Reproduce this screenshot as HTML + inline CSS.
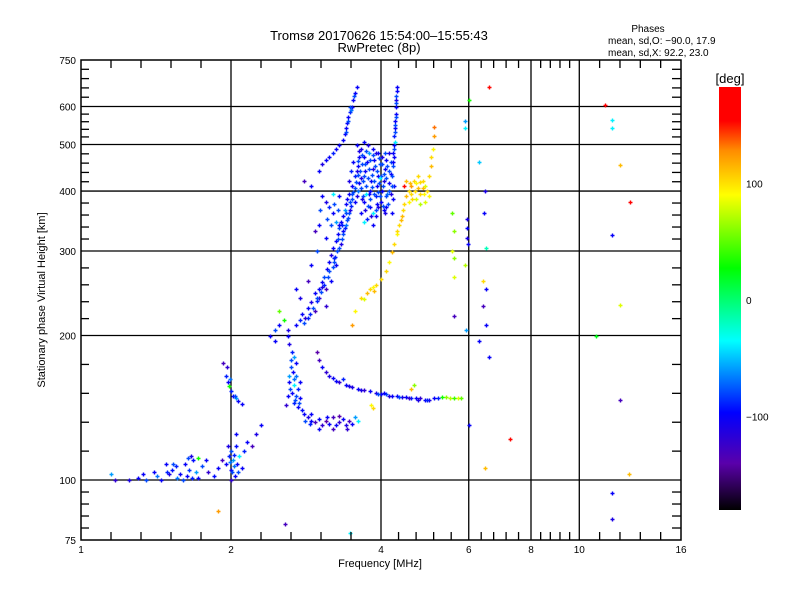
<!DOCTYPE html>
<html><head><meta charset="utf-8">
<style>
html,body{margin:0;padding:0;background:#fff;}
svg{display:block;font-family:"Liberation Sans",sans-serif;}
</style></head>
<body>
<svg id="chart" width="800" height="600" viewBox="0 0 800 600">
<defs>
<linearGradient id="cbgrad" x1="0" y1="0" x2="0" y2="1">
<stop offset="0" stop-color="#ff0000"/>
<stop offset="0.08" stop-color="#ff0000"/>
<stop offset="0.15" stop-color="#ff8c00"/>
<stop offset="0.255" stop-color="#ffff00"/>
<stop offset="0.428" stop-color="#00ff00"/>
<stop offset="0.60" stop-color="#00ffff"/>
<stop offset="0.77" stop-color="#0000ff"/>
<stop offset="0.89" stop-color="#5a00aa"/>
<stop offset="1" stop-color="#000000"/>
</linearGradient>
</defs>
<rect x="0" y="0" width="800" height="600" fill="#fff"/>
<text x="379" y="40" font-size="13" text-anchor="middle">Tromsø 20170626 15:54:00–15:55:43</text>
<text x="379" y="52" font-size="13" text-anchor="middle">RwPretec (8p)</text>
<text x="648" y="32" font-size="10" text-anchor="middle">Phases</text>
<text x="608" y="44" font-size="10">mean, sd,O: −90.0, 17.9</text>
<text x="608" y="56" font-size="10">mean, sd,X:  92.2, 23.0</text>
<text x="45" y="300" font-size="11" text-anchor="middle" transform="rotate(-90 45 300)">Stationary phase Virtual Height [km]</text>
<text x="380" y="567" font-size="11" text-anchor="middle">Frequency [MHz]</text>
<g id="grid"></g>
<g id="points"></g>
<rect x="81" y="60" width="600" height="480" fill="none" stroke="#000" stroke-width="1.5"/>
<g id="ticks"></g>
<rect x="719" y="87" width="22" height="423" fill="url(#cbgrad)"/>
<text x="730" y="83" font-size="13" text-anchor="middle">[deg]</text>
<g id="cbticks"></g>
</svg>
<script>
const xTicks = [1, 2, 4, 6, 8, 10, 16];
const yTicks = [75, 100, 200, 300, 400, 500, 600, 750];
const xGrid = [2, 4, 6, 8, 10];
const yGrid = [100, 200, 300, 400, 500, 600];
const cbTicks = [100, 0, -100];

const eLayer = [[1.15,103,-60],[1.17,100,-120],[1.25,100,-110],[1.3,101,-100],[1.33,103,-100],[1.35,100,-80],[1.4,104,-100],[1.42,102,-70],[1.45,100,-100],[1.5,103,-110],[1.52,105,-95],[1.55,107,-90],[1.58,103,-100],[1.6,100,-80],[1.62,108,-100],[1.65,105,-85],[1.68,110,-95],[1.7,104,-60],[1.72,101,-100],[1.75,107,-80],[1.78,110,-100],[1.8,104,-120],[1.85,102,-95],[1.88,106,-100],[1.63,102,-100],[1.56,101,-70],[1.48,108,-100],[1.66,112,-110],[1.72,111,30],[1.53,108,-80],[1.67,101,-90],[1.64,111,-80],[1.49,104,-90]];
const eCluster = [[1.92,110,-130],[1.95,108,-100],[1.98,112,-90],[2.0,105,-100],[2.0,115,-80],[2.02,110,-60],[2.04,102,-100],[2.05,118,-95],[2.06,108,-100],[2.08,112,-40],[2.1,106,-100],[2.12,115,-90],[2.15,120,-100],[2.2,118,-130],[2.05,125,-100],[1.97,118,-110],[2.0,100,-120],[2.03,107,-70],[2.25,125,-110],[2.3,130,-100],[1.93,175,-130],[1.96,172,-120],[1.95,165,-90],[1.97,160,-100],[1.98,157,30],[2.0,153,-90],[2.02,150,-100],[2.05,148,-60],[2.07,146,-100],[2.1,144,-100],[1.99,162,-70],[2.01,104,-80],[2.03,113,-90],[1.99,109,-70],[2.07,104,-80],[2.04,150,-80]];
const f1Cusp = [[2.6,200,-100],[2.62,192,-110],[2.65,185,-90],[2.68,180,-60],[2.7,175,-100],[2.64,172,-80],[2.66,168,-100],[2.7,165,-70],[2.62,160,-100],[2.68,158,-40],[2.72,155,-90],[2.65,152,-100],[2.7,150,-80],[2.75,148,-100],[2.68,145,-90],[2.72,142,-100],[2.78,140,-95],[2.8,137,-100],[2.85,135,-110],[2.9,133,-100],[2.62,165,-60],[2.75,160,-100],[2.6,150,-100],[2.58,143,-120],[2.95,132,-130],[3.0,134,-100],[3.05,130,-120],[3.1,133,-140],[3.15,131,-100],[3.2,135,-130],[3.25,130,-100],[3.3,132,-120],[3.35,134,-100],[3.4,130,-110],[3.45,133,-130],[3.5,131,-100],[3.55,135,-60],[3.6,133,-40],[3.0,128,-100],[3.2,128,-130],[3.3,136,-140],[2.9,137,-100],[3.12,135,-100],[3.42,128,-120],[2.64,178,-80],[2.67,162,-70],[2.63,155,-80],[2.69,147,-80],[2.74,145,-80],[2.82,133,-80],[2.88,131,-90]];
const f1Trace = [[2.98,185,-140],[3.0,178,-130],[3.05,172,-100],[3.1,168,-120],[3.15,165,-110],[3.2,163,-100],[3.3,160,-120],[3.4,158,-100],[3.5,156,-110],[3.6,155,-100],[3.7,154,-120],[3.8,153,-100],[3.9,152,-110],[4.0,151,-100],[4.1,151,-80],[4.2,150,-100],[4.3,150,-100],[4.4,149,-110],[4.5,149,-100],[4.6,148,-90],[4.7,148,-100],[4.8,148,-120],[4.9,147,-100],[5.0,147,-110],[5.1,148,-100],[5.2,148,-90],[5.3,149,30],[5.4,149,60],[5.5,148,70],[5.6,148,40],[5.7,148,80],[5.8,148,50],[3.35,162,-90],[4.05,152,-100],[3.82,143,90],[3.86,141,100],[4.6,155,110],[4.65,158,60],[3.25,161,-100],[3.45,157,-110],[3.65,154,-110],[3.95,151,-80],[4.15,150,-110],[4.35,149,-80],[4.55,148,-120],[4.75,147,-110],[4.95,147,-90]];
const f2Diagonal = [[2.6,205,-110],[2.7,210,-100],[2.75,215,-90],[2.78,222,-100],[2.82,218,-120],[2.85,228,-100],[2.9,235,-110],[2.88,222,-90],[2.95,245,-100],[3.0,250,-100],[3.0,240,-120],[3.05,258,-100],[3.08,265,-80],[3.1,250,-130],[3.12,275,-100],[3.15,285,-100],[3.18,295,-110],[3.2,305,-100],[3.22,290,-90],[3.25,315,-100],[3.28,325,-100],[3.3,335,-80],[3.32,345,-100],[3.35,355,-100],[3.38,365,-60],[3.4,375,-100],[3.42,385,-100],[3.45,395,-100],[3.35,330,-100],[3.1,230,-120],[3.18,260,-100],[3.25,280,-100],[2.95,225,-130],[2.4,200,-100],[2.45,205,-80],[2.5,210,-100],[2.55,215,30],[2.5,225,50],[2.45,195,-100]];
const f2Thick = [[2.8,212,-80],[2.86,218,-90],[2.92,228,-80],[2.98,236,-90],[3.03,246,-80],[3.08,255,-90],[3.13,265,-80],[3.2,278,-80],[3.24,292,-90],[3.3,305,-80],[3.34,318,-80],[3.38,335,-90],[3.42,348,-80],[3.45,360,-80],[3.48,372,-90],[3.5,385,-80],[3.52,398,-80],[3.27,300,-80],[3.32,310,-110],[3.36,325,-80],[3.4,340,-70],[3.44,352,-80],[3.47,365,-110],[3.15,272,-80],[3.05,252,-110],[2.97,240,-80],[3.22,285,-80],[3.28,318,-80],[3.34,340,-90],[3.4,360,-80],[3.46,380,-80],[3.5,395,-80]];
const f2Cloud = [[3.5,410,-100],[3.55,430,-90],[3.6,450,-100],[3.62,470,-100],[3.65,490,-110],[3.7,505,-100],[3.68,420,-80],[3.72,440,-100],[3.75,460,-100],[3.78,480,-60],[3.8,400,-100],[3.82,420,-100],[3.85,445,-110],[3.88,465,-100],[3.9,390,-90],[3.92,410,-100],[3.95,430,-100],[3.98,455,-80],[4.0,380,-100],[4.02,400,-100],[4.05,420,-110],[4.08,445,-100],[4.1,370,-100],[4.12,395,-70],[4.15,415,-100],[4.18,435,-100],[4.2,360,-100],[4.22,385,-100],[3.55,380,-100],[3.6,400,-70],[3.65,360,-100],[3.7,380,-100],[3.75,350,-90],[3.8,370,-100],[3.85,340,-100],[3.9,355,-100],[3.58,500,-100],[3.52,460,-100],[3.48,440,-90],[3.45,420,-110],[4.25,470,-100],[4.25,410,-100],[3.7,345,-40],[3.95,480,-100],[3.62,415,-100],[3.78,395,-100],[3.92,375,-100],[4.05,365,-100],[3.7,470,-100],[3.85,490,-100],[4.1,465,-100],[3.58,390,-110]];
const f2CloudDense = [[3.55,405,-80],[3.57,418,-80],[3.6,432,-80],[3.6,462,-80],[3.63,440,-80],[3.64,405,-80],[3.66,455,-80],[3.67,475,-80],[3.68,390,-80],[3.7,430,-80],[3.71,455,-80],[3.73,410,-80],[3.74,485,-80],[3.76,372,-80],[3.77,425,-80],[3.78,445,-80],[3.8,465,-80],[3.81,385,-80],[3.83,408,-80],[3.84,432,-80],[3.86,475,-80],[3.87,395,-80],[3.88,420,-80],[3.89,452,-80],[3.91,365,-80],[3.93,440,-80],[3.94,398,-80],[3.96,415,-80],[3.97,468,-80],[3.99,390,-80],[4.0,430,-80],[4.01,455,-80],[4.03,372,-80],[4.04,410,-80],[4.06,435,-80],[4.07,480,-80],[4.09,390,-80],[4.1,425,-80],[4.12,450,-80],[4.13,375,-80],[4.15,400,-80],[4.16,440,-80],[4.18,460,-80],[4.2,410,-80],[4.21,430,-80],[4.22,450,-80],[3.66,385,-110],[3.72,365,-110],[3.82,355,-110],[3.95,370,-110],[4.08,360,-110],[3.62,485,-110],[3.76,500,-110],[3.9,480,-110],[4.02,470,-110],[4.15,480,-110],[3.86,360,-40],[3.98,425,-40],[3.74,395,-40],[4.18,395,-110],[3.58,440,-110],[3.64,425,-110]];
const f2Towers = [[4.22,480,-100],[4.24,500,-100],[4.25,520,-90],[4.26,540,-100],[4.27,560,-100],[4.28,580,-100],[4.28,600,-100],[4.29,620,-110],[4.3,645,-100],[4.3,660,-100],[4.23,460,-100],[4.27,505,-40],[4.25,490,-80],[4.26,530,-80],[4.27,550,-80],[4.28,570,-80],[4.29,610,-80],[4.29,630,-80],[3.0,440,-100],[3.05,455,-110],[3.1,465,-100],[3.15,470,-100],[3.2,480,-90],[3.25,490,-100],[3.3,500,-100],[3.35,510,-100],[3.38,525,-100],[3.4,540,-100],[3.42,555,-100],[3.44,570,-100],[3.46,585,-90],[3.5,600,-100],[3.52,620,-100],[3.55,640,-100],[3.58,660,-100],[3.48,590,-70],[3.41,530,-80],[3.43,560,-80],[3.47,600,-80],[3.53,630,-80],[2.8,420,-130],[2.9,410,-100],[3.05,390,-100],[3.1,380,-110],[3.15,370,-90],[3.2,360,-100],[3.25,345,-60],[3.3,340,-100],[3.0,340,-100],[2.95,330,-130],[3.1,320,-100],[3.2,395,-40],[3.3,390,-100],[2.9,280,-100],[2.85,260,-130],[2.7,250,-100],[2.75,240,-110],[3.12,350,-80],[3.18,340,-80],[3.22,375,-80],[3.28,365,-80],[3.02,365,-80],[2.98,300,-80]];
const xTrace = [[3.5,210,120],[3.55,225,90],[3.65,240,100],[3.7,238,80],[3.75,245,110],[3.8,250,100],[3.85,252,90],[3.9,255,100],[3.88,248,110],[4.0,262,100],[4.1,272,100],[4.15,285,90],[4.2,298,110],[4.25,310,100],[4.3,325,90],[4.35,340,100],[4.4,355,110],[4.42,365,100],[4.45,375,100],[4.5,390,110],[4.55,400,100],[4.6,410,120],[4.65,420,100],[4.7,415,90],[4.75,405,110],[4.8,395,100],[4.85,420,100],[4.9,410,80],[4.95,400,100],[5.0,390,90],[4.55,380,90],[4.6,395,100],[4.7,385,80],[4.8,375,70],[4.9,380,80],[5.0,430,100],[5.05,450,110],[5.05,470,100],[5.08,490,90],[5.1,520,120],[5.1,545,130],[4.5,420,110],[4.45,410,150],[4.75,430,100],[4.58,415,110],[4.68,400,100],[4.78,418,100],[4.88,395,90],[4.62,385,100],[4.85,405,110],[4.3,330,100],[4.38,348,110]];
const sparse = [[5.9,560,-60],[5.9,540,-40],[6.0,620,30],[5.95,350,-110],[5.95,335,-100],[5.95,320,-110],[5.98,310,-100],[5.9,280,70],[5.92,205,-60],[6.0,130,-100],[6.3,460,-50],[6.48,400,-110],[6.45,360,-100],[6.5,305,-20],[6.4,260,100],[6.42,230,-130],[6.5,210,-100],[6.6,660,150],[5.6,330,60],[5.6,290,60],[5.6,265,80],[5.6,220,-130],[5.55,360,50],[5.55,300,80],[11.26,605,160],[11.63,562,-40],[11.63,541,-40],[12.07,453,110],[11.63,324,-100],[12.07,232,80],[10.8,200,20],[12.07,147,-130],[12.58,103,110],[11.63,94,-100],[11.63,83,-110],[7.26,122,150],[6.48,106,110],[3.47,77.5,-40],[2.57,81,-130],[1.88,86,120],[12.66,380,160],[6.5,250,-100],[6.6,180,-100],[6.3,195,-100]];

const NS = "http://www.w3.org/2000/svg";
const PX0 = 81, PX1 = 681, PY0 = 60, PY1 = 540;
function xScale(f){ return PX0 + (PX1-PX0) * Math.log2(f) / 4; }
function yScale(h){ return PY1 - (PY1-PY0) * Math.log10(h/75); }
function cbScale(d){ return 300 - d * 1.165; }
const cStops = [[180,[255,0,0]],[151,[255,0,0]],[125,[255,140,0]],[88,[255,255,0]],[26,[0,255,0]],[-37,[0,255,255]],[-97,[0,0,255]],[-140,[90,0,170]],[-180,[0,0,0]]];
function phaseColor(p){
  for(let i=0;i<cStops.length-1;i++){
    const a=cStops[i], b=cStops[i+1];
    if(p<=a[0] && p>=b[0]){
      const t=(a[0]-p)/(a[0]-b[0]);
      const c=a[1].map((v,k)=>Math.round(v+(b[1][k]-v)*t));
      return "rgb("+c.join(",")+")";
    }
  }
  return p>180?"rgb(255,0,0)":"rgb(0,0,0)";
}
function mk(tag, attrs, parent){
  const el=document.createElementNS(NS,tag);
  for(const k in attrs) el.setAttribute(k,attrs[k]);
  parent.appendChild(el); return el;
}
const grid=document.getElementById("grid");
xGrid.forEach(f=>{
  const l=mk("line",{x1:xScale(f),x2:xScale(f),y1:PY0,y2:PY1,stroke:"#000","stroke-width":1.3},grid);
  
  
});
yGrid.forEach(h=>{
  const l=mk("line",{x1:PX0,x2:PX1,y1:yScale(h),y2:yScale(h),stroke:"#000","stroke-width":1.3},grid);
  
  
});
const ticks=document.getElementById("ticks");
xTicks.forEach(f=>{
  const t=mk("text",{x:xScale(f),y:553,"font-size":10,"text-anchor":"middle"},ticks);
  t.textContent=f;
  
  
});
yTicks.forEach(h=>{
  const t=mk("text",{x:76,y:yScale(h)+4,"font-size":10,"text-anchor":"end"},ticks);
  t.textContent=h;
  
  
});
for(let i=0;i<xTicks.length-1;i++){
  const a=xScale(xTicks[i]), b=xScale(xTicks[i+1]);
  for(let j=1;j<5;j++){
    const x=a+(b-a)*j/5;
    const l1=mk("line",{x1:x,x2:x,y1:PY1,y2:PY1-8,stroke:"#000","stroke-width":1.3},ticks);
    
    
    const l2=mk("line",{x1:x,x2:x,y1:PY0,y2:PY0+8,stroke:"#000","stroke-width":1.3},ticks);
    
    
  }
}
for(let i=0;i<yTicks.length-1;i++){
  const a=yScale(yTicks[i]), b=yScale(yTicks[i+1]);
  for(let j=1;j<5;j++){
    const y=a+(b-a)*j/5;
    const l1=mk("line",{x1:PX0,x2:PX0+8,y1:y,y2:y,stroke:"#000","stroke-width":1.3},ticks);
    
    
    const l2=mk("line",{x1:PX1,x2:PX1-9,y1:y,y2:y,stroke:"#000","stroke-width":1.3},ticks);
    
    
  }
}
const pts=document.getElementById("points");
const groups=[["e-layer-point",eLayer],["e-cluster-point",eCluster],["f1-cusp-point",f1Cusp],["f1-trace-point",f1Trace],["f2-diagonal-point",f2Diagonal],["f2-thick-point",f2Thick],["f2-cloud-point",f2Cloud],["f2-cloud-dense-point",f2CloudDense],["f2-tower-point",f2Towers],["x-trace-point",xTrace],["sparse-point",sparse]];
groups.forEach(g=>{
  g[1].forEach(p=>{
    const x=Math.round(xScale(p[0]))+0.5, y=Math.round(yScale(p[1]))+0.5;
    const path=mk("path",{d:"M"+(x-2)+" "+y+"h4M"+x+" "+(y-2)+"v4",stroke:phaseColor(p[2]),"stroke-width":1.4,fill:"none"},pts);
    
    
  });
});
const cb=document.getElementById("cbticks");
cbTicks.forEach(d=>{
  const t=mk("text",{x:746,y:cbScale(d)+4,"font-size":10},cb);
  t.textContent=d===-100?"−100":d;
  
  
});
</script>
</body></html>
